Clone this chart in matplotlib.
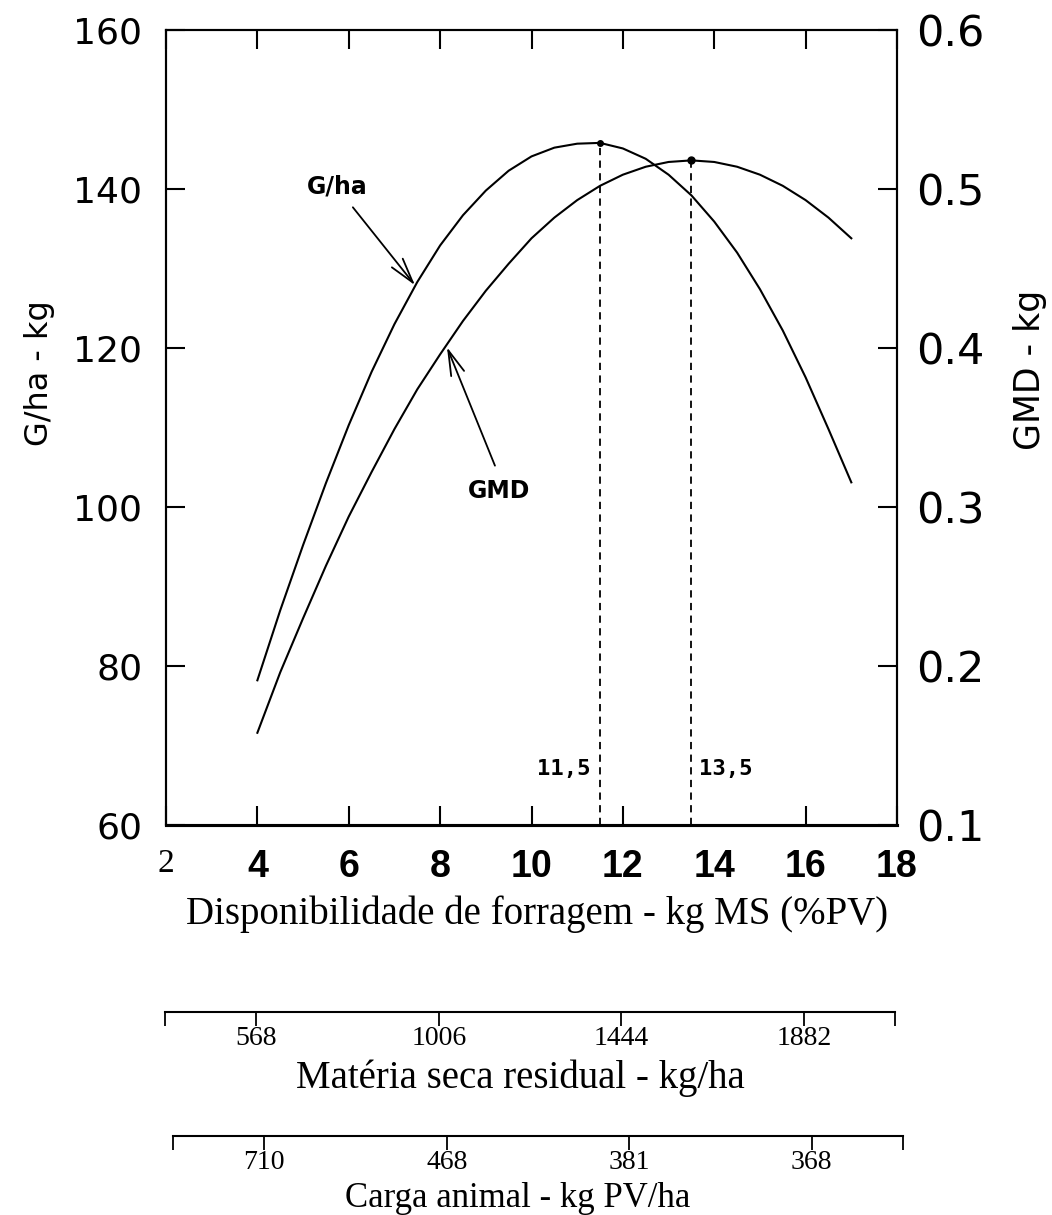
import matplotlib
matplotlib.use("Agg")
import matplotlib.pyplot as plt

# forage availability (kg DM per 100 kg LW) on the main x axis
disp = [4, 4.5, 5, 5.5, 6, 6.5, 7, 7.5, 8, 8.5, 9, 9.5, 10, 10.5, 11, 11.5,
        12, 12.5, 13, 13.5, 14, 14.5, 15, 15.5, 16, 16.5, 17]
# gain per hectare (kg), left axis
gain_ha = [78.2, 87.0, 95.2, 103.0, 110.3, 117.0, 123.0, 128.3, 132.9, 136.7,
           139.8, 142.3, 144.1, 145.2, 145.7, 145.8, 145.1, 143.8, 141.8, 139.2,
           135.9, 132.0, 127.4, 122.2, 116.3, 109.8, 103.1]
# average daily gain (kg), right axis
gmd = [0.158, 0.196, 0.230, 0.263, 0.294, 0.322, 0.349, 0.374, 0.396, 0.417,
       0.436, 0.453, 0.469, 0.482, 0.493, 0.502, 0.509, 0.514, 0.517, 0.518,
       0.517, 0.514, 0.509, 0.502, 0.493, 0.482, 0.469]

peak_gha = (11.5, 145.8)
peak_gmd = (13.5, 0.518)

x_ticks = [2, 4, 6, 8, 10, 12, 14, 16, 18]
residual_ticks = [4, 8, 12, 16]
residual_labels = ["568", "1006", "1444", "1882"]
stocking_labels = ["710", "468", "381", "368"]

W, H = 1052, 1215
fig = plt.figure(figsize=(W / 100, H / 100), dpi=100)

ax_l, ax_r, ax_t, ax_b = 166, 897, 30, 825
ax = fig.add_axes([ax_l / W, 1 - ax_b / H, (ax_r - ax_l) / W, (ax_b - ax_t) / H])
ax.set_xlim(2, 18)
ax.set_ylim(60, 160)

ax.plot(disp, gain_ha, color="black", lw=1.5)
ax.vlines(peak_gha[0], 60, peak_gha[1], colors="black", linestyles=(0, (4, 3)), lw=1.3)
ax.plot(*peak_gha, "o", color="black", ms=4)

ax2 = ax.twinx()
ax2.set_ylim(0.1, 0.6)
ax2.plot(disp, gmd, color="black", lw=1.5)
ax2.vlines(peak_gmd[0], 0.1, peak_gmd[1], colors="black", linestyles=(0, (4, 3)), lw=1.3)
ax2.plot(*peak_gmd, "o", color="black", ms=5)

mono = dict(family="DejaVu Sans Mono", weight="bold", fontsize=16)
ax.text(peak_gha[0] - 0.2, 67.0, "11,5", ha="right", va="center", **mono)
ax.text(peak_gmd[0] + 0.16, 67.0, "13,5", ha="left", va="center", **mono)

# curve labels with open arrows
arrow = dict(arrowstyle="->,head_length=0.9,head_width=0.25", lw=1.3,
             color="black", mutation_scale=20, shrinkA=0, shrinkB=0)
ax.text(5.74, 140.3, "G/ha", ha="center", va="center", fontsize=17, weight="bold")
ax.annotate("", xy=(7.45, 127.9), xytext=(6.09, 137.7), arrowprops=arrow)
ax.text(9.3, 102.0, "GMD", ha="center", va="center", fontsize=17, weight="bold")
ax.annotate("", xy=(8.15, 120.1), xytext=(9.2, 105.2), arrowprops=arrow)

# axes styling
ax.set_xticks(x_ticks)
ax.set_yticks([60, 80, 100, 120, 140, 160])
ax2.set_yticks([0.1, 0.2, 0.3, 0.4, 0.5, 0.6])
ax2.set_yticklabels(["0.1", "0.2", "0.3", "0.4", "0.5", "0.6"])
ax.tick_params(axis="x", direction="in", length=14, width=1.5, top=True, pad=17)
ax.tick_params(axis="y", direction="in", length=14, width=1.5, pad=17,
               labelsize=26)
ax2.tick_params(axis="y", direction="in", length=14, width=1.5, pad=14,
                labelsize=31)
for lab in ax.get_xticklabels():
    lab.set_fontfamily("Liberation Sans")
    lab.set_fontweight("bold")
    lab.set_fontsize(27)
first = ax.get_xticklabels()[0]
first.set_fontfamily("Liberation Serif")
first.set_fontweight("normal")
first.set_fontsize(24)
# no bottom tick at 14
ax.xaxis.get_major_ticks()[6].tick1line.set_visible(False)

for s in ax.spines.values():
    s.set_linewidth(1.5)
ax.spines["bottom"].set_linewidth(2.2)
for s in ax2.spines.values():
    s.set_linewidth(1.5)
ax2.spines["bottom"].set_linewidth(2.2)

ax.set_xlabel("Disponibilidade de forragem - kg MS (%PV)",
              family="Liberation Serif", fontsize=28)
ax.xaxis.set_label_coords((537 - ax_l) / (ax_r - ax_l), (ax_b - 914) / (ax_b - ax_t))
ax.xaxis.label.set_va("center")
ax.set_ylabel("G/ha - kg", fontsize=23)
ax.yaxis.set_label_coords((40 - ax_l) / (ax_r - ax_l), (ax_b - 373) / (ax_b - ax_t))
ax.yaxis.label.set_va("center")
ax2.set_ylabel("GMD - kg", fontsize=25, rotation=90)
ax2.yaxis.set_label_coords((1030 - ax_l) / (ax_r - ax_l), (ax_b - 370) / (ax_b - ax_t))
ax2.yaxis.label.set_va("center")


def extra_scale(x0, x1, y, labels):
    sx = fig.add_axes([x0 / W, 1 - y / H, (x1 - x0) / W, 0.0001])
    sx.set_xlim(2, 18)
    sx.set_yticks([])
    for side in ["left", "right", "top"]:
        sx.spines[side].set_visible(False)
    sx.spines["bottom"].set_linewidth(1.5)
    sx.set_xticks([2] + residual_ticks + [18])
    sx.set_xticklabels([""] + labels + [""])
    sx.tick_params(axis="x", direction="out", length=10, width=1.3, pad=0,
                   labelsize=20)
    for lab in sx.get_xticklabels():
        lab.set_fontfamily("Liberation Serif")
    sx.patch.set_visible(False)
    return sx


extra_scale(165, 895, 1012, residual_labels)
fig.text(520 / W, 1 - 1078 / H, "Matéria seca residual - kg/ha",
         family="Liberation Serif", fontsize=28, ha="center", va="center")
extra_scale(173, 903, 1136, stocking_labels)
fig.text(518 / W, 1 - 1207 / H, "Carga animal - kg PV/ha",
         family="Liberation Serif", fontsize=25, ha="center", va="baseline")

fig.savefig("out.png", dpi=100)
